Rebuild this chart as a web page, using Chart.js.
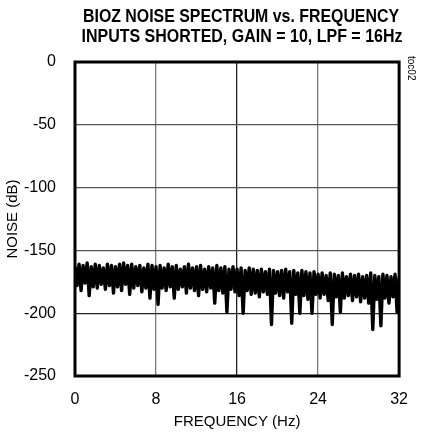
<!DOCTYPE html>
<html>
<head>
<meta charset="utf-8">
<script src="https://cdn.jsdelivr.net/npm/chart.js@4.4.0/dist/chart.umd.min.js"></script>
<style>
html,body{margin:0;padding:0;background:#fff;}
#wrap{width:422px;height:435px;position:relative;}
</style>
</head>
<body>
<div id="wrap"><canvas id="c" width="422" height="435"></canvas></div>
<script>
const titleLines = ["BIOZ NOISE SPECTRUM vs. FREQUENCY", "INPUTS SHORTED, GAIN = 10, LPF = 16Hz"];
const xAxisTitle = "FREQUENCY (Hz)";
const yAxisTitle = "NOISE (dB)";
const tocLabel = "toc02";
const xTicks = [0, 8, 16, 24, 32];
const yTicks = [0, -50, -100, -150, -200, -250];
const freqStep = 0.2; // Hz between samples
const noiseDb = [
  -163,-178,-161,-182,-162,-176,-160,-186,-163,-179,
  -161,-180,-162,-177,-164,-181,-161,-178,-162,-184,
  -163,-179,-161,-182,-160,-177,-162,-185,-161,-180,
  -163,-178,-162,-183,-164,-180,-161,-188,-162,-181,
  -163,-193,-162,-180,-164,-182,-161,-179,-163,-188,
  -162,-181,-165,-179,-163,-184,-161,-180,-164,-182,
  -163,-186,-162,-181,-165,-183,-163,-180,-164,-192,
  -162,-182,-164,-184,-163,-199,-165,-181,-163,-183,
  -165,-186,-164,-200,-166,-182,-164,-185,-165,-184,
  -166,-187,-165,-183,-167,-185,-165,-209,-166,-184,
  -167,-186,-166,-188,-165,-183,-167,-208,-166,-185,
  -168,-200,-166,-186,-167,-189,-168,-200,-167,-185,
  -169,-188,-168,-185,-170,-190,-168,-209,-169,-187,
  -170,-199,-168,-188,-171,-186,-169,-190,-170,-187,
  -169,-191,-171,-188,-170,-192,-168,-213,-170,-189,
  -171,-210,-169,-188,-170,-192,-171,-187,-169,-199,
  -171
];

const points = noiseDb.map((v, i) => ({x: +(i * freqStep).toFixed(2), y: v}));

const NARROW = "'Liberation Sans Narrow','Arial Narrow','Liberation Sans',Arial,sans-serif";
const SANS = "'Liberation Sans',Arial,sans-serif";

const PLOT = {left: 75, right: 406, top: 62, bottom: 376};

const decor = {
  id: 'decor',
  afterDraw(chart) {
    const ctx = chart.ctx;
    const a = chart.chartArea;
    ctx.save();
    // frame
    ctx.strokeStyle = '#000';
    ctx.lineWidth = 3;
    ctx.strokeRect(a.left, a.top, a.right - a.left, a.bottom - a.top);
    // title
    ctx.fillStyle = '#000';
    ctx.textAlign = 'center';
    ctx.textBaseline = 'alphabetic';
    ctx.font = "bold 19px " + NARROW;
    const targets = [{w: 316, cx: 241, y: 22}, {w: 321, cx: 242, y: 42}];
    titleLines.forEach((t, i) => {
      const m = ctx.measureText(t).width;
      const s = targets[i].w / m;
      ctx.save();
      ctx.translate(targets[i].cx, targets[i].y);
      ctx.scale(s, 1);
      ctx.fillText(t, 0, 0);
      ctx.restore();
    });
    // toc label
    ctx.save();
    ctx.translate(411, 56);
    ctx.rotate(Math.PI / 2);
    ctx.font = "10px " + SANS;
    ctx.textAlign = 'left';
    ctx.textBaseline = 'middle';
    ctx.fillText(tocLabel, 0, 0);
    ctx.restore();
    ctx.restore();
  }
};

new Chart(document.getElementById('c'), {
  type: 'line',
  data: {
    datasets: [{
      data: points,
      borderColor: '#000',
      borderWidth: 3.4,
      pointRadius: 0,
      tension: 0,
      fill: false,
      borderJoinStyle: 'round'
    }]
  },
  options: {
    responsive: false,
    animation: false,
    devicePixelRatio: 1,
    layout: {padding: {top: PLOT.top, right: 422 - PLOT.right, left: 0, bottom: 0}},
    plugins: {legend: {display: false}, tooltip: {enabled: false}, title: {display: false}},
    scales: {
      x: {
        type: 'linear',
        min: 0, max: 32,
        afterBuildTicks(s) { s.ticks = xTicks.map(v => ({value: v})); },
        afterFit(s) { s.height = 435 - PLOT.bottom; },
        grid: {
          drawTicks: false,
          color: c => (c.tick && c.tick.value === 16) ? '#222' : '#7a7a7a',
          lineWidth: 1.3
        },
        border: {display: false},
        ticks: {color: '#000', padding: 14, font: {family: SANS, size: 16}, maxRotation: 0},
        title: {display: true, text: xAxisTitle, color: '#000', font: {family: SANS, size: 15}, padding: {top: 1}}
      },
      y: {
        type: 'linear',
        min: -250, max: 0,
        afterBuildTicks(s) { s.ticks = yTicks.map(v => ({value: v})); },
        afterFit(s) { s.width = PLOT.left; },
        grid: {
          drawTicks: false,
          color: c => (c.tick && c.tick.value === -200) ? '#222' : '#555',
          lineWidth: 1.3
        },
        border: {display: false},
        ticks: {color: '#000', padding: 19, font: {family: SANS, size: 16}},
        title: {display: true, text: yAxisTitle, color: '#000', font: {family: SANS, size: 15}, padding: {bottom: 3}}
      }
    }
  },
  plugins: [decor]
});
</script>
</body>
</html>
